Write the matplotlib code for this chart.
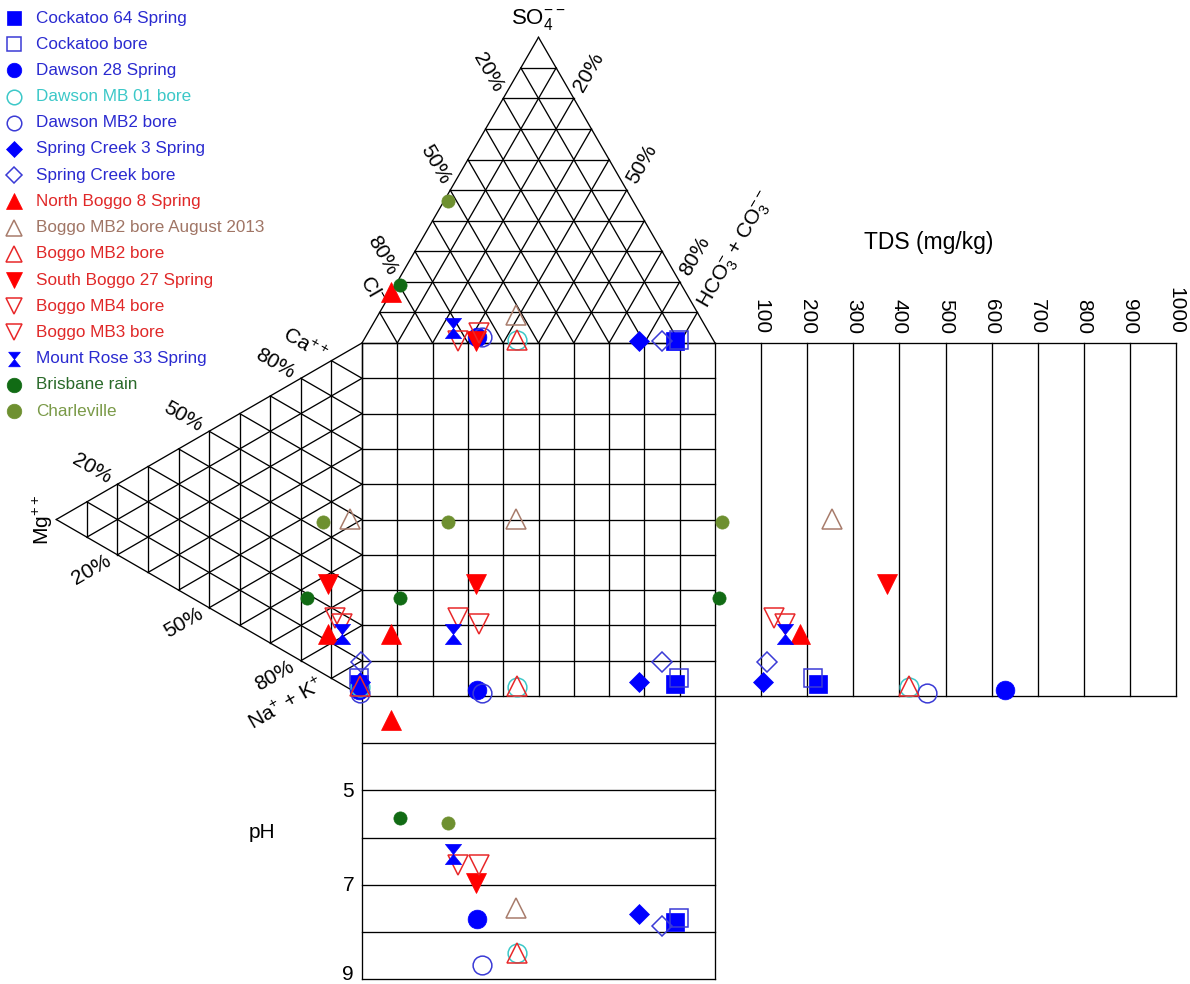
import numpy as np
import matplotlib
matplotlib.use('Agg')
import matplotlib.pyplot as plt
from matplotlib.path import Path

plt.rcParams['font.family'] = ['Liberation Sans', 'DejaVu Sans']
plt.rcParams['mathtext.fontset'] = 'custom'
plt.rcParams['mathtext.rm'] = 'Liberation Sans'
plt.rcParams['mathtext.it'] = 'Liberation Sans:italic'
plt.rcParams['mathtext.bf'] = 'Liberation Sans:bold'

# ---------------- data (meq %, TDS mg/kg, pH) ----------------
names = ["Cockatoo 64 Spring", "Cockatoo bore", "Dawson 28 Spring", "Dawson MB 01 bore",
         "Dawson MB2 bore", "Spring Creek 3 Spring", "Spring Creek bore", "North Boggo 8 Spring",
         "Boggo MB2 bore August 2013", "Boggo MB2 bore", "South Boggo 27 Spring", "Boggo MB4 bore",
         "Boggo MB3 bore", "Mount Rose 33 Spring", "Brisbane rain", "Charleville"]
ca   = [2.9, 4.6, 1.2, 2.3, 0.6, 3.8, 9.5, 12.0, 48.2, 2.6, 26.2, 17.2, 17.7, 14.4, 18.8, 42.9]
mg   = [1.0, 1.0, 1.0, 0.5, 0.5, 0.5, 0.3, 11.1, 3.9, 0.5, 11.1, 6.5, 8.8, 6.5, 18.0, 12.8]
na   = [96.1, 94.4, 97.8, 97.2, 98.9, 95.7, 90.2, 76.9, 47.9, 96.9, 62.7, 76.3, 73.5, 79.1, 63.2, 44.3]
cl   = [11.0, 9.7, 66.4, 55.6, 65.0, 21.3, 14.8, 83.3, 51.8, 55.6, 67.5, 65.2, 72.6, 71.8, 79.7, 52.4]
so4  = [0.5, 1.0, 2.0, 1.0, 2.0, 0.5, 0.5, 16.7, 9.2, 1.0, 0.5, 3.3, 0.5, 4.9, 19.0, 46.4]
hco3 = [88.5, 89.3, 31.6, 43.4, 33.0, 78.2, 84.7, 0.0, 39.0, 43.4, 32.0, 31.5, 26.9, 23.3, 1.3, 1.2]
tds  = [224, 212, 629, 421, 460, 104, 113, 184, 254, 421, 373, 152, 128, 152, 9, 15]
ph   = [7.78, 7.70, 7.72, 8.45, 8.70, 7.62, 7.87, 3.51, 7.49, 8.45, 6.96, 6.58, 6.58, 6.35, 5.58, 5.69]

tds_ticks = [100, 200, 300, 400, 500, 600, 700, 800, 900, 1000]
ph_ticks = [5, 7, 9]
pct_ticks = [20, 50, 80]

# ---------------- styles ----------------
BLUE, OBLUE = '#0000ff', '#3b3bd6'
CYAN = '#3cc8c8'
RED, ORED = '#ff0000', '#e8282a'
BROWN = '#a87c6c'
DGREEN, OLIVE = '#116b14', '#6e9030'
hour = Path([(-0.8, 1), (0.8, 1), (0, 0), (0.8, -1), (-0.8, -1), (0, 0), (-0.8, 1)],
            [Path.MOVETO, Path.LINETO, Path.LINETO, Path.LINETO, Path.LINETO, Path.LINETO, Path.CLOSEPOLY])
# marker, color, filled, text color, plot size, legend size
styles = [
    ('s', BLUE, True, '#2a2ad0', 12.5, 9.5),
    ('s', OBLUE, False, '#2a2ad0', 12.5, 9.5),
    ('o', BLUE, True, '#2a2ad0', 13.5, 10.5),
    ('o', CYAN, False, '#3cc8c8', 13.5, 10.5),
    ('o', OBLUE, False, '#2a2ad0', 13.5, 10.5),
    ('D', BLUE, True, '#2a2ad0', 10.5, 8.0),
    ('D', OBLUE, False, '#2a2ad0', 10.5, 8.0),
    ('^', RED, True, '#e02828', 14.5, 11.5),
    ('^', BROWN, False, '#a07565', 14.5, 11.5),
    ('^', ORED, False, '#e02828', 14.5, 11.5),
    ('v', RED, True, '#e02828', 14.5, 11.5),
    ('v', ORED, False, '#e02828', 14.5, 11.5),
    ('v', ORED, False, '#e02828', 14.5, 11.5),
    (hour, BLUE, True, '#2a2ad0', 14.5, 10.5),
    ('o', DGREEN, True, '#2a6a2a', 9.5, 10.5),
    ('o', OLIVE, True, '#7a9a48', 9.5, 10.5),
]

# ---------------- layout (pixels) ----------------
W, HGT = 1190, 984
X0, Y0, S = 362.0, 343.0, 353.0
H = S * np.sqrt(3) / 2
TDS_PX = 0.461
PH_PX = 47.2
PH0, PH1 = 3, 9


def anion_xy(c, s, h):
    t = c + s + h
    return X0 + S * (h + s / 2) / t, Y0 - H * s / t


def cation_xy(a, m, n):
    t = a + m + n
    return X0 - H * m / t, Y0 + S * (n + m / 2) / t


def tds_x(v):
    return X0 + S + v * TDS_PX


def ph_y(v):
    return Y0 + S + (v - PH0) * PH_PX


fig = plt.figure(figsize=(W / 100, HGT / 100), dpi=100)
ax = fig.add_axes([0, 0, 1, 1])
ax.set_xlim(0, W)
ax.set_ylim(HGT, 0)
ax.axis('off')

LW = 0.95
lk = dict(color='black', lw=LW, zorder=1, solid_capstyle='projecting')


def seg(p, q):
    ax.plot([p[0], q[0]], [p[1], q[1]], **lk)


# triangles
for k in range(10):
    c = 10 * k
    seg(anion_xy(100 - c, c, 0), anion_xy(0, c, 100 - c))
    seg(anion_xy(c, 100 - c, 0), anion_xy(c, 0, 100 - c))
    seg(anion_xy(100 - c, 0, c), anion_xy(0, 100 - c, c))
    seg(cation_xy(100 - c, c, 0), cation_xy(0, c, 100 - c))
    seg(cation_xy(c, 100 - c, 0), cation_xy(c, 0, 100 - c))
    seg(cation_xy(100 - c, 0, c), cation_xy(0, 100 - c, c))

# square grid
for k in range(11):
    seg((X0 + S * k / 10, Y0), (X0 + S * k / 10, Y0 + S))
    seg((X0, Y0 + S * k / 10), (X0 + S, Y0 + S * k / 10))

# TDS box
seg((X0 + S, Y0), (tds_x(1000), Y0))
seg((X0 + S, Y0 + S), (tds_x(1000), Y0 + S))
for t in tds_ticks:
    seg((tds_x(t), Y0), (tds_x(t), Y0 + S))
    ax.text(tds_x(t), Y0 - 9, str(t), rotation=-90, ha='center', va='bottom', fontsize=15)

# pH box
seg((X0, Y0 + S), (X0, ph_y(PH1)))
seg((X0 + S, Y0 + S), (X0 + S, ph_y(PH1)))
for p in range(PH0 + 1, PH1 + 1):
    seg((X0, ph_y(p)), (X0 + S, ph_y(p)))
for p in ph_ticks:
    yy = min(ph_y(p) + 1, HGT - 10)
    ax.text(X0 - 8, yy, str(p), ha='right', va='center', fontsize=15)
ax.text(262, 832, 'pH', ha='center', va='center', fontsize=15)

# percent labels
D = 30
r3 = np.sqrt(3) / 2
for c in pct_ticks:
    x, y = anion_xy(c, 100 - c, 0)
    ax.text(x - 0.5 * D, y - r3 * D, f'{c}%', rotation=-60, ha='center', va='center', fontsize=15)
    x, y = anion_xy(0, 100 - c, c)
    ax.text(x + 0.5 * D, y - r3 * D, f'{c}%', rotation=60, ha='center', va='center', fontsize=15)
    x, y = cation_xy(c, 100 - c, 0)
    ax.text(x - r3 * D, y - 0.5 * D, f'{c}%', rotation=-30, ha='center', va='center', fontsize=15)
    x, y = cation_xy(0, 100 - c, c)
    ax.text(x - r3 * D, y + 0.5 * D, f'{c}%', rotation=30, ha='center', va='center', fontsize=15)

# axis names
ax.text(538, 20, r'SO$_4^{--}$', ha='center', va='center', fontsize=16)
ax.text(372, 290, r'Cl$^{-}$', rotation=-60, ha='center', va='center', fontsize=15)
ax.text(737, 250, r'HCO$_3^{-}$ + CO$_3^{--}$', rotation=60, ha='center', va='center', fontsize=15)
ax.text(305, 345, r'Ca$^{++}$', rotation=-30, ha='center', va='center', fontsize=15)
ax.text(43, 520, r'Mg$^{++}$', rotation=90, ha='center', va='center', fontsize=15)
ax.text(286, 704, r'Na$^{+}$ + K$^{+}$', rotation=30, ha='center', va='center', fontsize=15)
ax.text(929, 243, 'TDS (mg/kg)', ha='center', va='center', fontsize=16.5)


def mk(x, y, st, size, z):
    m, col, filled, _, _, _ = st
    if filled:
        ax.plot(x, y, linestyle='none', marker=m, ms=size, mfc=col, mec=col, mew=0.5, zorder=z)
    else:
        ax.plot(x, y, linestyle='none', marker=m, ms=size, mfc='none', mec=col, mew=1.1, zorder=z)


# samples
for i in range(len(names)):
    st = styles[i]
    ax_, ay_ = anion_xy(cl[i], so4[i], hco3[i])
    cx_, cy_ = cation_xy(ca[i], mg[i], na[i])
    xs = [ax_, cx_, ax_, tds_x(tds[i]), ax_]
    ys = [ay_, cy_, cy_, cy_, ph_y(ph[i])]
    mk(xs, ys, st, st[4], 3 + i * 0.01)

# legend
for i, nm in enumerate(names):
    st = styles[i]
    ly = 18 + i * 26.2
    mk([14], [ly], st, st[5], 5)
    ax.text(36, ly, nm, color=st[3], fontsize=12.3, ha='left', va='center')

fig.savefig('out.png', dpi=100)
